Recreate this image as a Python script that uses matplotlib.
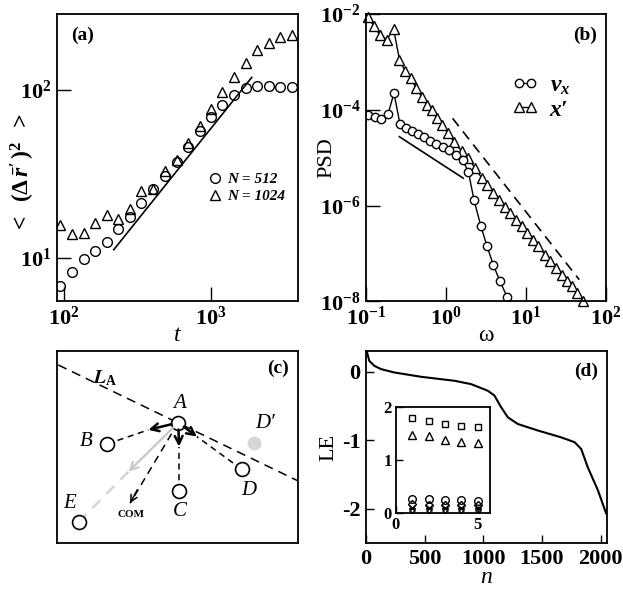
import numpy as np
import matplotlib
matplotlib.use('Agg')
import matplotlib.pyplot as plt
from matplotlib.ticker import FixedLocator, FixedFormatter, NullLocator

plt.rcParams['font.family'] = ['Liberation Serif', 'DejaVu Serif']
plt.rcParams['font.weight'] = 'bold'
plt.rcParams['mathtext.fontset'] = 'custom'
plt.rcParams['mathtext.rm'] = 'Liberation Serif:bold'
plt.rcParams['mathtext.bf'] = 'Liberation Serif:bold'
plt.rcParams['mathtext.it'] = 'Liberation Serif:italic:bold'
plt.rcParams['axes.unicode_minus'] = False
plt.rcParams['axes.linewidth'] = 1.3

# (a) mean square displacement
t = [95, 114, 137, 164, 197, 234, 282, 338, 406, 490, 587, 701, 842, 1000,
     1193, 1440, 1727, 2050, 2473, 2964, 3565]
msd_512 = [6.8, 8.2, 9.8, 11.0, 12.4, 14.8, 17.5, 21.2, 25.7, 30.9, 37.3, 46.0,
           57.3, 69.4, 81.4, 93.4, 102.4, 106, 105.6, 104.6, 103.7]
msd_1024 = [15.7, 13.9, 14.0, 16.2, 18.0, 17.1, 19.7, 25.0, 25.9, 33.0, 38.3,
            48.6, 61.1, 77.1, 96.9, 119, 146, 173, 191, 208, 212]
fit_t = [219, 1900]
fit_msd = [11.2, 119]

# (b) power spectra
w_v = [0.106, 0.128, 0.154, 0.188, 0.224, 0.266, 0.316, 0.376, 0.447, 0.531,
       0.631, 0.750, 0.917, 1.09, 1.33, 1.61, 1.91, 2.24, 2.74, 3.25, 3.90,
       4.73, 5.84]
psd_v = [7.87e-5, 6.98e-5, 6.50e-5, 7.94e-5, 2.20e-4, 4.92e-5, 4.12e-5, 3.57e-5,
         3.10e-5, 2.62e-5, 2.21e-5, 1.92e-5, 1.62e-5, 1.41e-5, 1.13e-5, 8.91e-6,
         5.02e-6, 1.31e-6, 3.66e-7, 1.45e-7, 5.85e-8, 2.65e-8, 1.23e-8]
w_x = [0.106, 0.126, 0.148, 0.183, 0.221, 0.262, 0.307, 0.365, 0.422, 0.501,
       0.579, 0.668, 0.772, 0.891, 1.06, 1.26, 1.58, 1.90, 2.30, 2.79, 3.28,
       3.90, 4.64, 5.46, 6.40, 7.61, 8.83, 10.3, 12.2, 14.3, 17.3, 20.0, 23.7,
       27.9, 32.3, 37.3, 43.0, 52.0]
psd_x = [8.38e-3, 5.45e-3, 3.62e-3, 2.85e-3, 4.83e-3, 1.10e-3, 6.41e-4, 4.52e-4,
         2.80e-4, 1.82e-4, 1.26e-4, 9.77e-5, 6.66e-5, 4.76e-5, 3.25e-5, 2.11e-5,
         1.34e-5, 9.67e-6, 6.08e-6, 3.77e-6, 2.69e-6, 1.84e-6, 1.31e-6, 9.53e-7,
         6.95e-7, 5.05e-7, 3.66e-7, 2.67e-7, 1.94e-7, 1.41e-7, 9.45e-8, 6.85e-8,
         5.00e-8, 3.62e-8, 2.63e-8, 2.07e-8, 1.51e-8, 1.01e-8]
solid_w = [0.261, 1.64]
solid_psd = [2.72e-5, 3.72e-6]
dash_w = [1.21, 46.4]
dash_psd = [6.56e-5, 2.85e-8]

# (c) schematic, node positions in axes fraction
nodes = {'A': (0.503, 0.627), 'B': (0.209, 0.516), 'C': (0.506, 0.273),
         'D': (0.766, 0.384), 'E': (0.091, 0.111)}
node_labels = {'A': (0.510, 0.728), 'B': (0.12, 0.528), 'C': (0.51, 0.163),
               'D': (0.794, 0.273), 'E': (0.054, 0.207)}
d_prime = (0.817, 0.522)
la_line = [(0.005, 0.927), (1.0, 0.323)]
tips = {'B': (0.379, 0.589), 'C': (0.506, 0.502), 'D': (0.580, 0.554)}
com_tip = (0.303, 0.207)
gray_tip = (0.296, 0.371)

# (d) Lyapunov spectrum
n = [0, 6, 28, 71, 128, 241, 469, 754, 896, 1038, 1095, 1152, 1209, 1294,
     1465, 1664, 1778, 1835, 1892, 1977, 2048]
le = [0.33, 0.30, 0.155, 0.083, 0.035, -0.014, -0.077, -0.135, -0.184, -0.28,
      -0.35, -0.52, -0.667, -0.765, -0.86, -0.96, -1.03, -1.13, -1.40, -1.73,
      -2.07]
ins_x = [1, 2, 3, 4, 5]
ins_sq = [1.78, 1.72, 1.67, 1.64, 1.61]
ins_tri = [1.47, 1.44, 1.375, 1.34, 1.31]
ins_circ = [0.27, 0.26, 0.25, 0.24, 0.23]
ins_dia = [0.17, 0.16, 0.16, 0.15, 0.15]
ins_x2 = [0.10, 0.10, 0.09, 0.09, 0.09]
ins_dn = [0.04, 0.04, 0.04, 0.04, 0.04]

fig = plt.figure(figsize=(6.23, 5.90), dpi=100)

# ---- (a)
ax = fig.add_axes([0.0915, 0.489, 0.387, 0.488])
ax.set_xscale('log')
ax.set_yscale('log')
ax.plot(t, msd_512, 'o', mfc='none', mec='k', ms=7, mew=1, label='N = 512')
ax.plot(t, msd_1024, '^', mfc='none', mec='k', ms=7, mew=1, label='N = 1024')
ax.plot(fit_t, fit_msd, 'k-', lw=1.2)
ax.set_xlim(90, 3930)
ax.set_ylim(5.5, 286)
ax.xaxis.set_major_locator(FixedLocator([100, 1000]))
ax.xaxis.set_major_formatter(FixedFormatter([r'$10^{2}$', r'$10^{3}$']))
ax.yaxis.set_major_locator(FixedLocator([10, 100]))
ax.yaxis.set_major_formatter(FixedFormatter([r'$10^{1}$', r'$10^{2}$']))
ax.xaxis.set_minor_locator(NullLocator())
ax.yaxis.set_minor_locator(NullLocator())
ax.tick_params(direction='in', length=10, width=1, labelsize=16, pad=4)
ax.set_xlabel('t', fontstyle='italic', fontsize=17, labelpad=-4)
ax.set_ylabel(r'$\mathbf{<}\;\;(\mathit{\Delta}\,\bar{r}^{\prime}\,)^{2}\;\;\mathbf{>}$',
              fontsize=17)
ax.yaxis.set_label_coords(-0.085, 0.446)
ax.text(0.108, 0.925, '(a)', transform=ax.transAxes, fontsize=14,
        ha='center', va='center')
ax.legend(loc='center left', bbox_to_anchor=(0.565, 0.395), frameon=False,
          handlelength=1.0, handletextpad=0.3, labelspacing=0.25,
          prop={'style': 'italic', 'weight': 'bold', 'size': 11})

# ---- (b)
ax = fig.add_axes([0.5875, 0.489, 0.385, 0.488])
ax.set_xscale('log')
ax.set_yscale('log')
ax.plot(w_x, psd_x, '-^', color='k', mfc='white', mec='k', ms=6.5, mew=1,
        lw=1, clip_on=False, label='x\u2032')
ax.plot(w_v, psd_v, '-o', color='k', mfc='white', mec='k', ms=6, mew=1,
        lw=1, label=r'$v_x$')
ax.plot(solid_w, solid_psd, 'k-', lw=1.2)
ax.plot(dash_w, dash_psd, 'k--', lw=1.2, dashes=(6, 4))
ax.set_xlim(0.1, 100)
ax.set_ylim(1e-8, 1e-2)
ax.xaxis.set_major_locator(FixedLocator([0.1, 1, 10, 100]))
ax.xaxis.set_major_formatter(FixedFormatter([r'$10^{-1}$', r'$10^{0}$',
                                             r'$10^{1}$', r'$10^{2}$']))
ax.yaxis.set_major_locator(FixedLocator([1e-8, 1e-6, 1e-4, 1e-2]))
ax.yaxis.set_major_formatter(FixedFormatter([r'$10^{-8}$', r'$10^{-6}$',
                                             r'$10^{-4}$', r'$10^{-2}$']))
ax.xaxis.set_minor_locator(NullLocator())
ax.yaxis.set_minor_locator(NullLocator())
ax.tick_params(direction='in', length=10, width=1, labelsize=16, pad=4)
ax.set_xlabel('ω', fontsize=17, labelpad=-4)
ax.set_ylabel('PSD', fontsize=16)
ax.yaxis.set_label_coords(-0.125, 0.50)
ax.text(0.9125, 0.925, '(b)', transform=ax.transAxes, fontsize=14,
        ha='center', va='center')
h, l = ax.get_legend_handles_labels()
ax.legend(h[::-1], l[::-1], loc='center left', bbox_to_anchor=(0.52, 0.708),
          frameon=False, numpoints=2, handlelength=1.1, handletextpad=0.5,
          labelspacing=0.1, prop={'style': 'italic', 'size': 17})

# ---- (c)
ax = fig.add_axes([0.0915, 0.0797, 0.387, 0.3255])
ax.set_xlim(0, 1)
ax.set_ylim(0, 1)
ax.set_xticks([])
ax.set_yticks([])
ax.plot([p[0] for p in la_line], [p[1] for p in la_line], 'k--', lw=1.1,
        dashes=(6, 4))
ax.text(0.199, 0.858, r'$L_{\mathregular{A}}$', fontsize=14, ha='center',
        va='center', math_fontfamily='stix')
pa = nodes['A']
for k in ['B', 'C', 'D']:
    ax.plot([nodes[k][0], tips[k][0]], [nodes[k][1], tips[k][1]], 'k--',
            lw=1.1, dashes=(4, 3))
    ax.annotate('', xy=tips[k], xytext=pa,
                arrowprops=dict(arrowstyle='->', lw=1.8, color='k',
                                shrinkA=5, shrinkB=0, mutation_scale=14))
# gray arrow toward E
ax.annotate('', xy=gray_tip, xytext=pa,
            arrowprops=dict(arrowstyle='->', lw=1.6, color='#c8c8c8',
                            shrinkA=5, shrinkB=0, mutation_scale=14))
ax.plot([gray_tip[0], nodes['E'][0]], [gray_tip[1], nodes['E'][1]], '--',
        color='#d0d0d0', lw=1.6, dashes=(5, 4))
# dashed arrow to center of mass
ax.plot([pa[0], com_tip[0]], [pa[1], com_tip[1]], 'k--', lw=1.1,
        dashes=(5, 3.5))
ax.annotate('', xy=com_tip, xytext=(com_tip[0] + 0.03, com_tip[1] + 0.07),
            arrowprops=dict(arrowstyle='->', lw=1.1, color='k',
                            shrinkA=0, shrinkB=0, mutation_scale=12))
ax.plot(*d_prime, 'o', color='#d6d6d6', ms=10, mec='none')
for k, (x, y) in nodes.items():
    ax.plot(x, y, 'o', mfc='white', mec='k', ms=10, mew=1.2)
for k, (x, y) in node_labels.items():
    ax.text(x, y, k, fontsize=15, fontstyle='italic', fontweight='normal',
            ha='center', va='center')
ax.text(0.863, 0.623, "D\u2032", fontsize=15, fontstyle='italic',
        fontweight='normal', ha='center', va='center')
ax.text(0.306, 0.149, 'COM', fontsize=8, ha='center', va='center')
ax.text(0.918, 0.91, '(c)', transform=ax.transAxes, fontsize=14,
        ha='center', va='center')

# ---- (d)
ax = fig.add_axes([0.5875, 0.0797, 0.387, 0.3255])
ax.plot(n, le, 'k-', lw=1.5)
ax.set_xlim(0, 2056)
ax.set_ylim(-2.5, 0.3)
ax.set_xticks([0, 500, 1000, 1500, 2000])
ax.set_yticks([-2, -1, 0])
ax.tick_params(direction='in', length=6, width=1, labelsize=16, pad=4)
ax.set_xlabel('n', fontstyle='italic', fontsize=17, labelpad=-1)
ax.set_ylabel('LE', fontsize=16)
ax.yaxis.set_label_coords(-0.115, 0.5)
ax.text(0.913, 0.892, '(d)', transform=ax.transAxes, fontsize=14,
        ha='center', va='center')

ins = fig.add_axes([0.6356, 0.130, 0.151, 0.181])
mk = dict(mfc='none', mec='k', mew=1, ls='none')
ins.plot(ins_x, ins_sq, 's', ms=5, **mk)
ins.plot(ins_x, ins_tri, '^', ms=5.5, **mk)
ins.plot(ins_x, ins_circ, 'o', ms=5.5, **mk)
ins.plot(ins_x, ins_dia, 'D', ms=4, **mk)
ins.plot(ins_x, ins_x2, 'x', ms=4.5, **mk)
ins.plot(ins_x, ins_dn, 'v', ms=5, **mk)
ins.set_xlim(0, 5.75)
ins.set_ylim(0, 2)
ins.set_xticks([0, 5])
ins.set_yticks([0, 1, 2])
ins.tick_params(direction='in', length=5, width=1, labelsize=12, pad=3)

fig.savefig('out.png', dpi=100)
